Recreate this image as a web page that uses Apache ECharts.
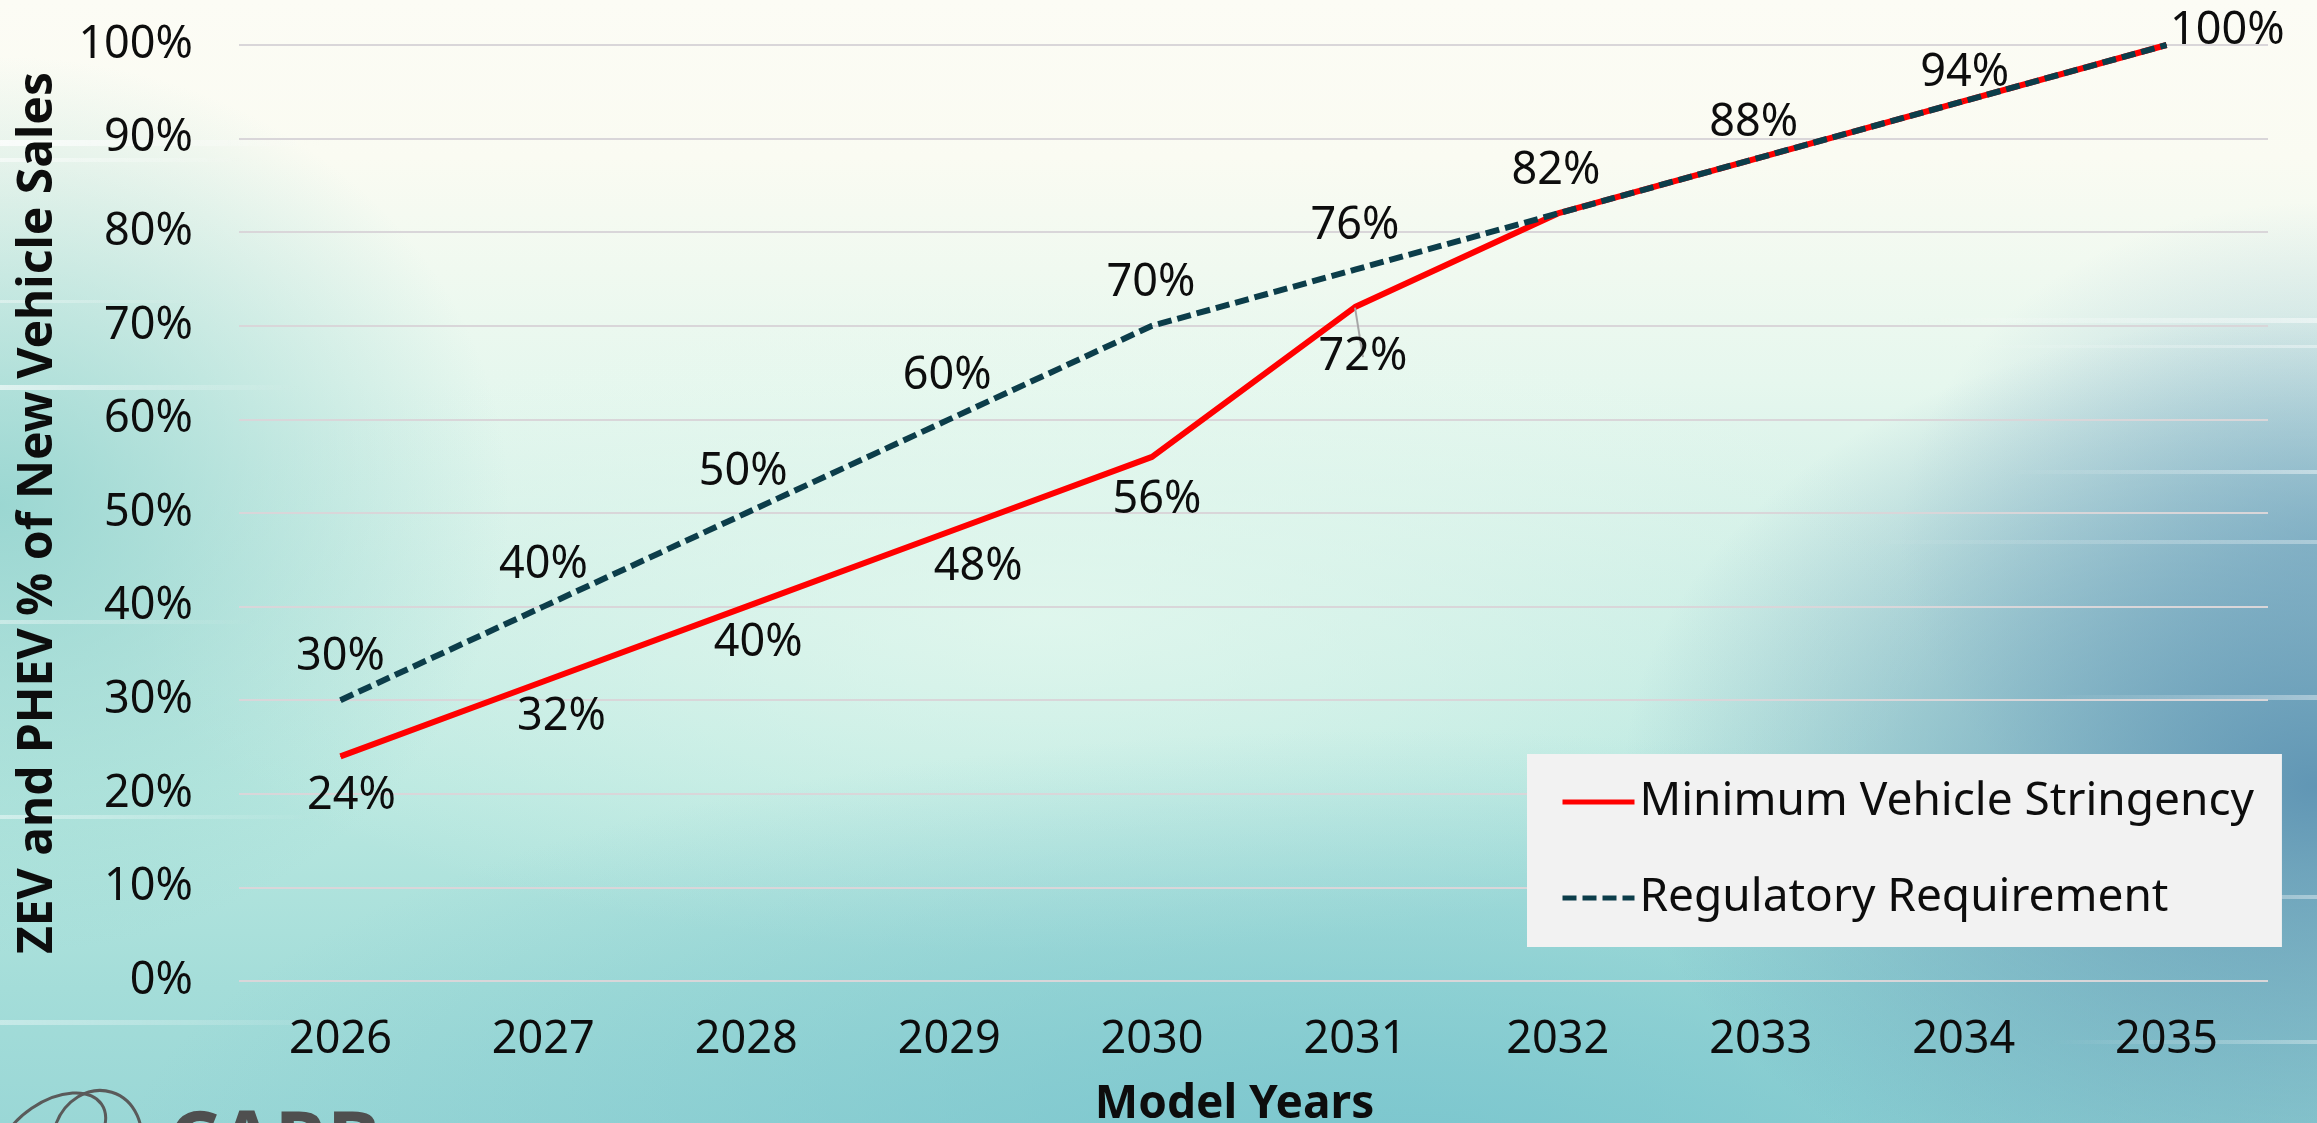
<!DOCTYPE html>
<html>
<head>
<meta charset="utf-8">
<script src="https://cdn.jsdelivr.net/npm/echarts@6/dist/echarts.min.js"></script>
<style>
  html, body { margin: 0; padding: 0; width: 2317px; height: 1123px; overflow: hidden; }
  body {
    background:
      radial-gradient(ellipse 30% 42% at 100% 70%, rgba(88,142,176,0.9), rgba(88,142,176,0) 100%),
      radial-gradient(ellipse 18% 30% at 100% 48%, rgba(120,170,196,0.55), rgba(120,170,196,0) 100%),
      radial-gradient(ellipse 55% 40% at 60% 105%, rgba(116,194,204,0.85), rgba(116,194,204,0) 100%),
      radial-gradient(ellipse 22% 40% at 0% 45%, rgba(140,208,204,0.8), rgba(140,208,204,0) 100%),
      radial-gradient(ellipse 40% 30% at 45% 55%, rgba(232,250,240,0.7), rgba(232,250,240,0) 100%),
      linear-gradient(to bottom, #fcfcf5 0%, #fafbf2 14%, #e6f7ee 34%, #cdeee6 52%, #b9e8e0 70%, #a4ddd9 88%, #9ad7d6 100%);
  }
  #chart { width: 2317px; height: 1123px; }
</style>
</head>
<body>
<div id="chart"></div>
<script>
// Model years on the category axis
const modelYears = ['2026', '2027', '2028', '2029', '2030', '2031', '2032', '2033', '2034', '2035'];
// Share of new vehicle sales (%) for each model year
const minimumStringency = [24, 32, 40, 48, 56, 72, 82, 88, 94, 100];
const regulatoryRequirement = [30, 40, 50, 60, 70, 76, 82, 88, 94, 100];
// Which minimum-stringency points carry their own label (later years share the requirement label)
const minimumLabelled = [true, true, true, true, true, true, false, false, false, false];
const yTicks = { min: 0, max: 100, step: 10 };

const FONT = '"Noto Sans", "DejaVu Sans", sans-serif';
const TEXT = '#0d0d0d';
const RED = '#ff0000';
const TEAL = '#0c3d4a';

// Label placement tweaks: [dx, distance]
const regLabelTweak = [[0, 20], [0, 18], [-3, 18], [-2, 20], [-1, 20], [0, 20], [-2, 19], [-7, 11], [1, 5], [0, 3]];
const minLabelTweak = [[11, 17], [18, 13], [12, 14], [29, 12], [5, 20], [8, 27]];

const labelBase = { fontFamily: FONT, fontSize: 45, lineHeight: 45, color: TEXT, formatter: '{c}%' };

const regData = regulatoryRequirement.map((v, i) => {
  const t = regLabelTweak[i];
  const last = i === regulatoryRequirement.length - 1;
  return {
    value: v,
    label: Object.assign({}, labelBase, {
      show: true,
      position: last ? 'right' : 'top',
      distance: t[1],
      offset: last ? [0, -14] : [t[0], 0]
    })
  };
});

const minData = minimumStringency.map((v, i) => {
  if (!minimumLabelled[i]) return { value: v, label: { show: false } };
  const t = minLabelTweak[i];
  const item = {
    value: v,
    label: Object.assign({}, labelBase, {
      show: true,
      position: 'bottom',
      distance: t[1],
      offset: [t[0], 0]
    })
  };
  if (i === 5) {
    item.labelLine = { show: true, lineStyle: { color: '#a6a6a6', width: 2 } };
  }
  return item;
});

// Soft horizontal light streaks across the slide background
function streak(x, y, w, h, fromLeft, alpha) {
  return {
    type: 'rect', silent: true, z: -10,
    shape: { x: x, y: y, width: w, height: h },
    style: {
      fill: new echarts.graphic.LinearGradient(0, 0, 1, 0, fromLeft
        ? [{ offset: 0, color: 'rgba(255,255,255,' + alpha + ')' }, { offset: 1, color: 'rgba(255,255,255,0)' }]
        : [{ offset: 0, color: 'rgba(255,255,255,0)' }, { offset: 1, color: 'rgba(255,255,255,' + alpha + ')' }])
    }
  };
}

const chart = echarts.init(document.getElementById('chart'), null, { renderer: 'canvas' });

chart.setOption({
  backgroundColor: 'transparent',
  animation: false,
  grid: { left: 239, right: 49, top: 45, bottom: 142, containLabel: false, outerBoundsMode: 'none' },
  xAxis: {
    type: 'category',
    data: modelYears,
    boundaryGap: true,
    axisLine: { show: false },
    axisTick: { show: false },
    axisLabel: { fontFamily: FONT, fontSize: 45, color: TEXT, margin: 37 },
    name: 'Model Years',
    nameLocation: 'middle',
    nameGap: 101,
    nameTextStyle: { fontFamily: FONT, fontSize: 46, fontWeight: 'bold', color: TEXT, padding: [0, 38, 0, 0] }
  },
  yAxis: {
    type: 'value',
    min: yTicks.min,
    max: yTicks.max,
    interval: yTicks.step,
    axisLine: { show: false },
    axisTick: { show: false },
    axisLabel: { fontFamily: FONT, fontSize: 45, color: TEXT, margin: 46, formatter: '{value}%', padding: [9, 0, 0, 0] },
    splitLine: { lineStyle: { color: '#d9d6d9', width: 2 } },
    name: 'ZEV and PHEV % of New Vehicle Sales',
    nameLocation: 'middle',
    nameGap: 177,
    nameRotate: 90,
    nameTextStyle: { fontFamily: FONT, fontSize: 48, fontWeight: 'bold', color: TEXT }
  },
  legend: {
    orient: 'vertical',
    left: 1527,
    top: 754,
    padding: [25, 28, 26, 33],
    itemGap: 50,
    itemWidth: 72,
    itemHeight: 46,
    backgroundColor: '#f2f2f2',
    borderRadius: 0,
    itemStyle: { opacity: 0 },
    lineStyle: { width: 5 },
    textStyle: { fontFamily: FONT, fontSize: 46, color: TEXT, padding: [9, 0, 0, 0] },
    data: ['Minimum Vehicle Stringency', 'Regulatory Requirement']
  },
  series: [
    {
      name: 'Minimum Vehicle Stringency',
      type: 'line',
      data: minData,
      symbol: 'circle',
      symbolSize: 1,
      showSymbol: true,
      itemStyle: { color: RED },
      lineStyle: { color: RED, width: 6 },
      z: 2
    },
    {
      name: 'Regulatory Requirement',
      type: 'line',
      data: regData,
      symbol: 'circle',
      symbolSize: 1,
      showSymbol: true,
      itemStyle: { color: TEAL },
      lineStyle: { color: TEAL, width: 6, type: [14, 6] },
      z: 3
    }
  ],
  graphic: [
    streak(0, 140, 330, 6, true, 0.75),
    streak(0, 158, 260, 4, true, 0.55),
    streak(0, 385, 300, 5, true, 0.6),
    streak(0, 300, 200, 3, true, 0.4),
    streak(0, 620, 260, 4, true, 0.4),
    streak(0, 815, 320, 4, true, 0.45),
    streak(0, 1020, 380, 5, true, 0.4),
    streak(1900, 318, 417, 5, false, 0.5),
    streak(1950, 345, 367, 3, false, 0.4),
    streak(2000, 470, 317, 4, false, 0.45),
    streak(1850, 540, 467, 4, false, 0.35),
    streak(2050, 695, 267, 5, false, 0.4),
    streak(2100, 895, 217, 4, false, 0.4),
    streak(2050, 1040, 267, 4, false, 0.35),
    // CARB logo peeking in at the bottom-left corner
    {
      type: 'ellipse', shape: { cx: 0, cy: 0, rx: 44, ry: 50 },
      x: 97, y: 1140, rotation: -0.3,
      style: { fill: 'none', stroke: '#5a5a5a', lineWidth: 3 }
    },
    {
      type: 'ellipse', shape: { cx: 0, cy: 0, rx: 60, ry: 36 },
      x: 52, y: 1138, rotation: 0.6,
      style: { fill: 'none', stroke: '#5a5a5a', lineWidth: 3 }
    },
    {
      type: 'text', x: 168, y: 1146,
      style: { text: 'CARB', font: 'bold 80px "Noto Sans", sans-serif', fill: '#4f4f4f', verticalAlign: 'middle' }
    }
  ]
});
</script>
</body>
</html>
